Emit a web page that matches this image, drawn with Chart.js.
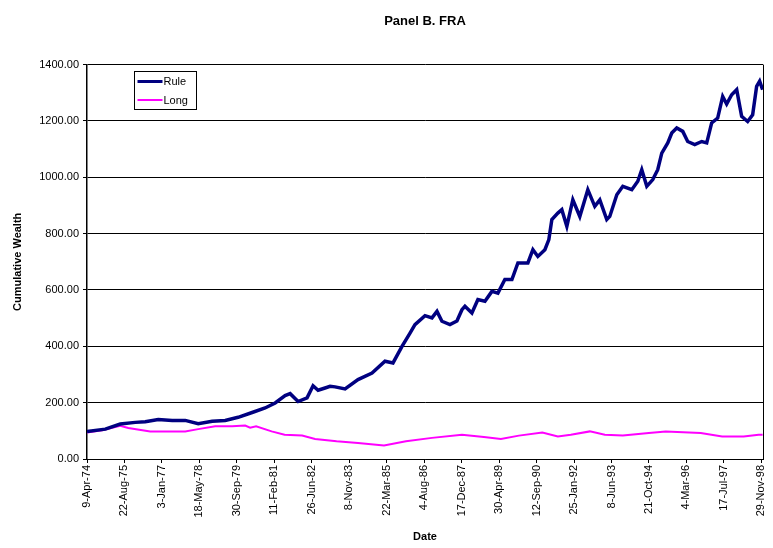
<!DOCTYPE html>
<html>
<head>
<meta charset="utf-8">
<script src="https://cdn.jsdelivr.net/npm/chart.js@4.4.0/dist/chart.umd.min.js"></script>
<style>
  html, body { margin: 0; padding: 0; background: #fff; }
  #wrap { width: 773px; height: 548px; }
</style>
</head>
<body>
<div id="wrap"><canvas id="chart" width="773" height="548"></canvas></div>
<script>
// x values are days counted from 9-Apr-74; one tick every 500 days
const tickLabels = ["9-Apr-74", "22-Aug-75", "3-Jan-77", "18-May-78", "30-Sep-79", "11-Feb-81",
  "26-Jun-82", "8-Nov-83", "22-Mar-85", "4-Aug-86", "17-Dec-87", "30-Apr-89", "12-Sep-90",
  "25-Jan-92", "8-Jun-93", "21-Oct-94", "4-Mar-96", "17-Jul-97", "29-Nov-98"];
const tickStep = 500;

const ruleDays = [0, 244, 444, 644, 777, 951, 1137, 1311, 1484, 1671, 1844, 2017, 2204, 2377, 2511,
  2644, 2711, 2817, 2937, 3017, 3084, 3177, 3244, 3311, 3444, 3617, 3804, 3977, 4084, 4204, 4311,
  4377, 4511, 4604, 4671, 4737, 4844, 4937, 5004, 5044, 5137, 5217, 5311, 5404, 5484, 5577, 5671,
  5751, 5884, 5951, 6017, 6111, 6164, 6204, 6284, 6337, 6404, 6484, 6577, 6684, 6777, 6844, 6937,
  6977, 7071, 7151, 7271, 7351, 7404, 7471, 7551, 7617, 7671, 7751, 7804, 7871, 7951, 8017, 8111,
  8204, 8271, 8337, 8417, 8484, 8537, 8604, 8671, 8737, 8817, 8884, 8937, 8977, 9017];
const ruleValues = [98, 106, 124, 130, 132, 140, 137, 137, 125, 134, 137, 148, 165, 181, 199,
  225, 232, 204, 217, 260, 244, 252, 258, 256, 249, 282, 305, 347, 341, 400, 447,
  477, 509, 501, 524, 489, 477, 490, 530, 542, 518, 566, 560, 595, 589, 637, 637,
  696, 696, 743, 719, 743, 779, 850, 873, 885, 826, 920, 861, 956, 897, 920, 850,
  861, 938, 968, 956, 986, 1027, 968, 992, 1027, 1086, 1122, 1157, 1175, 1163, 1127, 1116,
  1127, 1122, 1193, 1210, 1287, 1260, 1293, 1311, 1216, 1198, 1222, 1323, 1341, 1311];

const longDays = [0, 204, 444, 551, 844, 1311, 1484, 1711, 1937, 2111, 2177, 2257, 2464, 2637,
  2871, 3044, 3331, 3617, 3964, 4257, 4604, 5004, 5297, 5524, 5764, 6077, 6284, 6457, 6711,
  6911, 7151, 7498, 7724, 8191, 8477, 8764, 8964, 9017];
const longValues = [94, 102, 118, 110, 98, 98, 106, 116, 116, 119, 111, 116, 98, 86,
  83, 71, 63, 57, 48, 63, 75, 86, 78, 71, 83, 94, 80, 86, 98,
  86, 83, 92, 98, 92, 80, 80, 86, 86];

const FONT = "'Liberation Sans', Arial, sans-serif";

function toPoints(xs, ys) {
  return xs.map((x, i) => ({ x: x, y: ys[i] }));
}

// legend box inside the plot, plus the right edge of the plot frame
const insideLegend = {
  id: "insideLegend",
  afterDraw(chart) {
    const ctx = chart.ctx;
    const area = chart.chartArea;
    ctx.save();
    ctx.strokeStyle = "#000";
    ctx.lineWidth = 1;
    ctx.beginPath();
    ctx.moveTo(Math.round(area.right) + 0.5, area.top);
    ctx.lineTo(Math.round(area.right) + 0.5, area.bottom);
    ctx.stroke();

    const bx = 134.5, by = 71.5, bw = 62, bh = 38;
    ctx.fillStyle = "#fff";
    ctx.fillRect(bx, by, bw, bh);
    ctx.strokeRect(bx, by, bw, bh);
    ctx.font = "11px " + FONT;
    ctx.textBaseline = "middle";
    chart.data.datasets.forEach((ds, i) => {
      const y = by + 10 + i * 18.5;
      ctx.strokeStyle = ds.borderColor;
      ctx.lineWidth = i === 0 ? 3 : 2;
      ctx.beginPath();
      ctx.moveTo(bx + 3, y);
      ctx.lineTo(bx + 28, y);
      ctx.stroke();
      ctx.fillStyle = "#000";
      ctx.fillText(ds.label, bx + 29, y + 0.5);
    });
    ctx.restore();
  }
};

new Chart(document.getElementById("chart").getContext("2d"), {
  type: "line",
  data: {
    datasets: [
      {
        label: "Rule",
        data: toPoints(ruleDays, ruleValues),
        borderColor: "#000080",
        borderWidth: 3.5,
        pointRadius: 0,
        tension: 0,
      },
      {
        label: "Long",
        data: toPoints(longDays, longValues),
        borderColor: "#ff00ff",
        borderWidth: 2,
        pointRadius: 0,
        tension: 0,
      },
    ],
  },
  options: {
    responsive: false,
    animation: false,
    layout: { padding: { left: 0, right: 10, top: 0, bottom: 0 } },
    plugins: {
      legend: { display: false },
      tooltip: { enabled: false },
      title: {
        display: true,
        text: "Panel B. FRA",
        fullSize: false,
        color: "#000",
        font: { family: FONT, size: 13, weight: "bold" },
        padding: { top: 14, bottom: 35 },
      },
    },
    scales: {
      x: {
        type: "linear",
        min: 0,
        max: 9022,
        afterBuildTicks(scale) {
          scale.ticks = tickLabels.map((_, i) => ({ value: i * tickStep }));
        },
        afterFit(scale) {
          scale.height = 89;
          scale.paddingRight = 0;
          scale.paddingLeft = 0;
        },
        ticks: {
          autoSkip: false,
          maxRotation: 90,
          minRotation: 90,
          padding: 2,
          color: "#000",
          font: { family: FONT, size: 11 },
          callback: (v) => tickLabels[Math.round(v / tickStep)],
        },
        grid: { drawOnChartArea: false, drawTicks: true, tickLength: 4, color: "#000" },
        border: { color: "#000", width: 1 },
        title: {
          display: true,
          text: "Date",
          color: "#000",
          font: { family: FONT, size: 11, weight: "bold" },
          padding: { top: 0, bottom: 4 },
        },
      },
      y: {
        min: 0,
        max: 1400,
        afterFit(scale) { scale.width = 87; },
        ticks: {
          stepSize: 200,
          padding: 4,
          color: "#000",
          font: { family: FONT, size: 11 },
          callback: (v) => v.toFixed(2),
        },
        grid: { color: "#000", lineWidth: 1, tickLength: 4 },
        border: { color: "#000", width: 1.5 },
        title: {
          display: true,
          text: "Cumulative Wealth",
          color: "#000",
          font: { family: FONT, size: 11, weight: "bold" },
          padding: { top: 11, bottom: 0 },
        },
      },
    },
  },
  plugins: [insideLegend],
});
</script>
</body>
</html>
